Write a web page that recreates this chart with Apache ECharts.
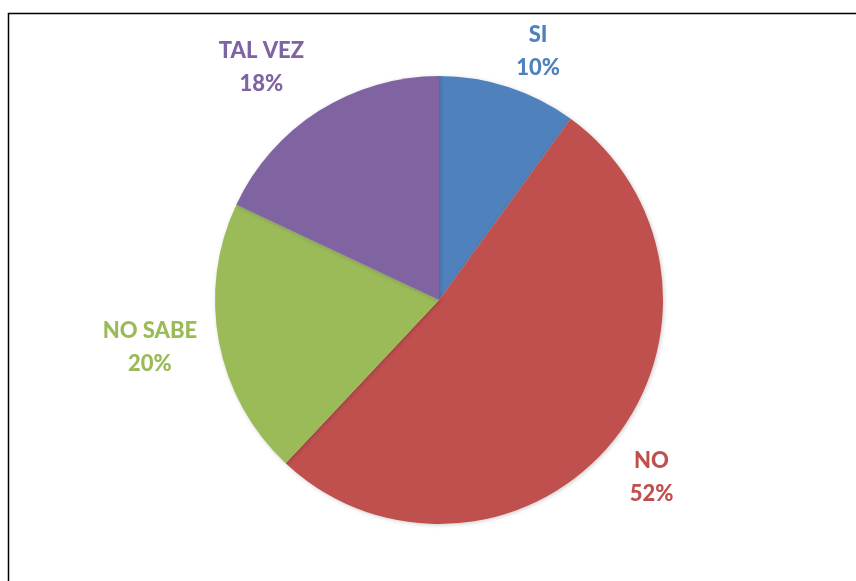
<!DOCTYPE html>
<html>
<head>
<meta charset="utf-8">
<script src="https://cdn.jsdelivr.net/npm/echarts@6/dist/echarts.min.js"></script>
<style>
    html,body{
        margin:0;
        padding:0;
        background:#fff;
    }
    #pieChart{
        width:856px;
        height:581px;
    }
</style>
</head>
<body>
<div id="pieChart"></div>
<script>
    // datos
    var categories = ['SI', 'NO', 'NO SABE', 'TAL VEZ']
    var values = [10, 52, 20, 18]
    var colors = ['#4F81BD', '#C0504D', '#9BBB59', '#8064A2']

    var centerX = 439
    var centerY = 300
    var radius = 224
    // ajuste de etiquetas (grados respecto al angulo medio, distancia al centro)
    var labelAngleShift = [3.7, 0.3, 1.4, -4.9]
    var labelDistance = [268, 277, 293, 293]

    var total = values.reduce(function(a, b){ return a + b }, 0)

    var seriesData = []
    categories.map(function(item, index){
        seriesData.push({
            name: item,
            value: values[index],
            itemStyle: { color: colors[index] },
            label: { color: colors[index] }
        })
    })

    // etiqueta fuera del sector, cerca del angulo medio
    function placeLabel(params){
        var i = params.dataIndex
        var before = 0
        for(var k = 0; k < i; k++){ before += values[k] }
        var mid = (before + values[i] / 2) / total * Math.PI * 2 + labelAngleShift[i] * Math.PI / 180
        var r = labelDistance[i]
        return {
            x: centerX + Math.sin(mid) * r,
            y: centerY - Math.cos(mid) * r,
            align: 'center',
            verticalAlign: 'middle'
        }
    }

    var myChart = echarts.init(document.getElementById('pieChart'))
    var option = {
        animation: false,
        graphic: [{
            type: 'rect',
            shape: { x: 8.5, y: 13.5, width: 900, height: 700 },
            style: { fill: 'none', stroke: '#000', lineWidth: 1.5 },
            silent: true
        }],
        series: [{
            type: 'pie',
            center: [centerX, centerY],
            radius: radius,
            startAngle: 90,
            clockwise: true,
            avoidLabelOverlap: false,
            data: seriesData,
            itemStyle: {
                borderWidth: 0,
                shadowBlur: 4,
                shadowOffsetX: 1,
                shadowOffsetY: 1,
                shadowColor: 'rgba(0,0,0,0.2)'
            },
            label: {
                show: true,
                position: 'outside',
                formatter: function(params){
                    return params.name + '\n' + Math.round(params.percent) + '%'
                },
                fontFamily: 'Lato',
                fontWeight: 900,
                fontSize: 22,
                lineHeight: 33,
                align: 'center'
            },
            labelLine: { show: false },
            labelLayout: placeLabel,
            emphasis: { disabled: true }
        }]
    }
    myChart.setOption(option)
</script>
</body>
</html>
